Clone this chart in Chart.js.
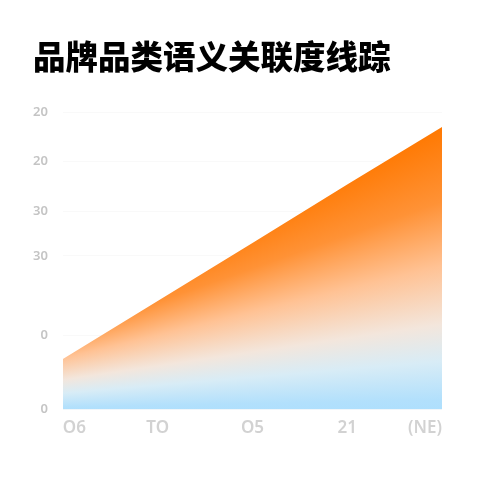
<!DOCTYPE html>
<html>
<head>
<meta charset="utf-8">
<script src="https://cdn.jsdelivr.net/npm/chart.js@4"></script>
<style>
  html, body { margin: 0; padding: 0; background: #fff; }
  #wrap { width: 480px; height: 480px; }
</style>
</head>
<body>
<div id="wrap"><canvas id="myChart" width="480" height="480"></canvas></div>
<script>
const titleText = '品牌品类语义关联度线踪';
const categories = ['O6', 'TO', 'O5', '21', '(NE)'];
const values = [10.2, 21.9, 33.6, 45.4, 57.0];
const yTickVals = [0, 15, 31, 40, 50, 60];
const yTickLabels = ['0', '0', '30', '30', '20', '20'];

const ctx = document.getElementById('myChart');

// fan-shaped gradient: orange near the top edge, fading to light blue at the base
function areaGradient(context) {
    const chart = context.chart;
    const area = chart.chartArea;
    if (!area) return '#ffb070';
    const c = chart.ctx;
    const w = area.right - area.left;
    const cx = area.left - 0.576 * w;
    const cy = area.bottom + 2;
    if (!c.createConicGradient) {
        const lg = c.createLinearGradient(0, area.top, 0, area.bottom);
        lg.addColorStop(0, '#ff7800');
        lg.addColorStop(0.6, '#ffd0a8');
        lg.addColorStop(1, '#a9deff');
        return lg;
    }
    const g = c.createConicGradient(-0.5, cx, cy);
    g.addColorStop(0, '#ff7400');
    g.addColorStop(0.008, '#ff7800');
    g.addColorStop(0.0258, '#ff9236');
    g.addColorStop(0.0414, '#ffc294');
    g.addColorStop(0.0565, '#f3e6dc');
    g.addColorStop(0.0662, '#d8ecf6');
    g.addColorStop(0.0764, '#b2e0fc');
    g.addColorStop(0.083, '#a9deff');
    g.addColorStop(1, '#a9deff');
    return g;
}

const myChart = new Chart(ctx, {
    type: 'line',
    data: {
        labels: categories,
        datasets: [{
            data: values,
            fill: 'start',
            backgroundColor: areaGradient,
            borderWidth: 0,
            pointRadius: 0,
            tension: 0
        }]
    },
    options: {
        responsive: false,
        animation: false,
        layout: { padding: { left: 33, right: 38, top: 37, bottom: 34 } },
        plugins: {
            legend: { display: false },
            tooltip: { enabled: false },
            title: {
                display: true,
                text: titleText,
                align: 'start',
                color: '#000',
                font: { family: '"Noto Sans CJK SC"', size: 32.5, weight: '900' },
                padding: { top: 0, bottom: 36 }
            }
        },
        scales: {
            x: {
                offset: false,
                grid: { display: false, drawTicks: false },
                border: { display: false },
                afterFit: scale => {
                    // labels sit inside the plot, no overhang needed
                    scale.paddingLeft = 0;
                    scale.paddingRight = 0;
                },
                ticks: {
                    color: '#d2d2d2',
                    font: { family: '"Noto Sans"', size: 17, weight: '600' },
                    padding: 8,
                    align: 'inner',
                    maxRotation: 0
                }
            },
            y: {
                min: 0,
                max: 60,
                grid: { color: 'rgba(0,0,0,0.025)', drawTicks: false },
                border: { display: false },
                afterBuildTicks: axis => {
                    axis.ticks = yTickVals.map(v => ({ value: v }));
                },
                afterFit: scale => {
                    // chart.js counts tick padding twice, keep only the gap to the plot
                    scale.width -= scale.options.ticks.padding;
                },
                ticks: {
                    color: '#c4c4c4',
                    font: { family: '"Noto Sans"', size: 13, weight: '600' },
                    padding: 15,
                    callback: (val, i) => yTickLabels[i]
                }
            }
        }
    }
});
</script>
</body>
</html>
